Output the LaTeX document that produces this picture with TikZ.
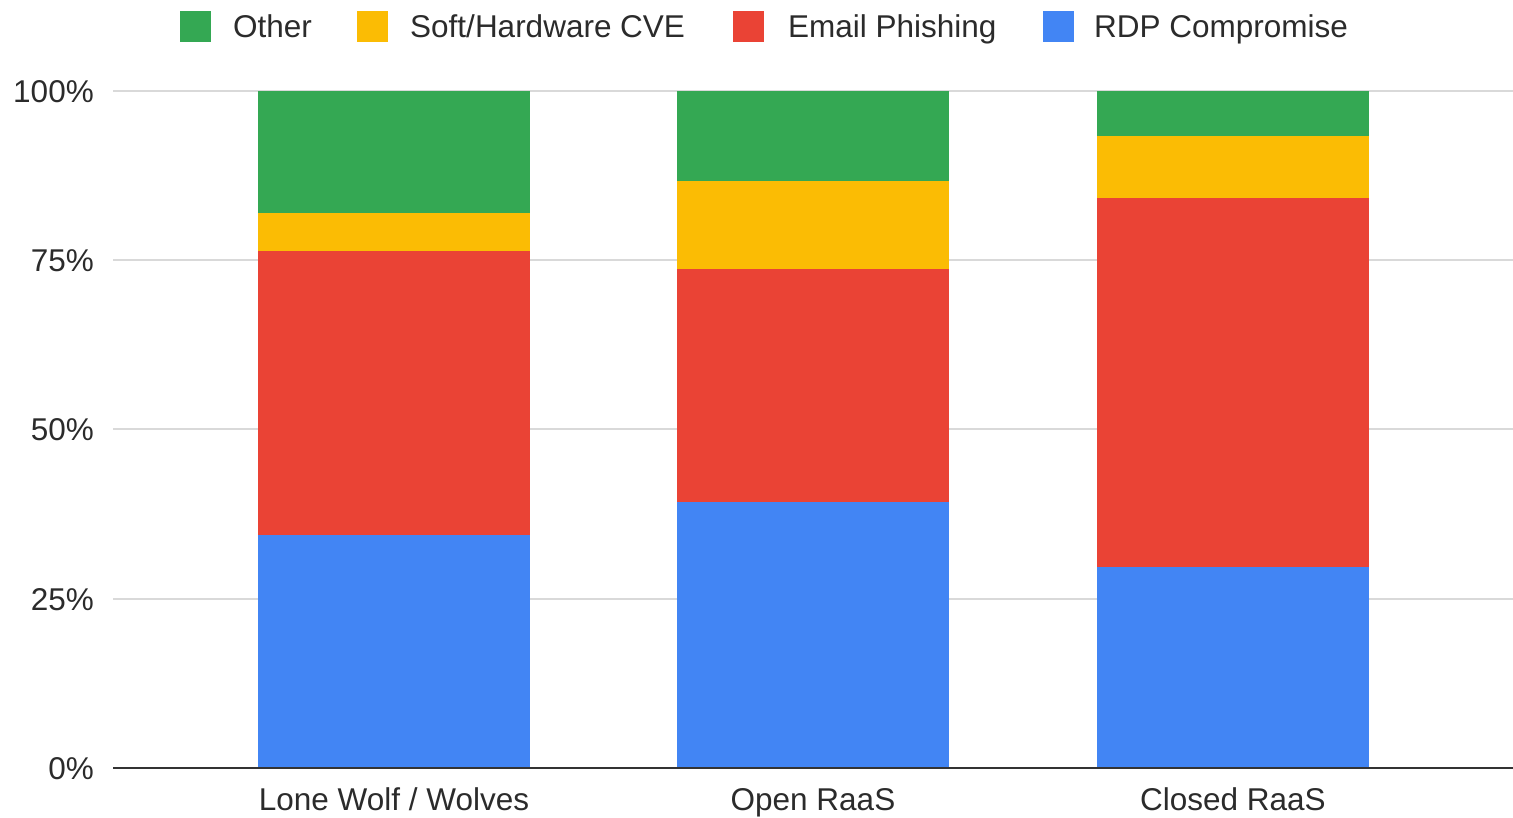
\documentclass[tikz,border=0pt]{standalone}
\usepackage{fontspec}
\setmainfont{Liberation Sans}
\definecolor{cgreen}{HTML}{34A853}
\definecolor{cyellow}{HTML}{FBBC04}
\definecolor{cred}{HTML}{EA4335}
\definecolor{cblue}{HTML}{4285F4}
\definecolor{ctext}{HTML}{2B2B2B}
\definecolor{cgrid}{HTML}{D9D9D9}
\definecolor{caxis}{HTML}{333333}
\tikzset{
  lbl/.style={font=\fontsize{31.5}{36}\selectfont, text=ctext, inner sep=0pt},
  grid line/.style={draw=cgrid, line width=2pt},
  axis line/.style={draw=caxis, line width=2pt},
  swatch/.style={inner sep=0pt, minimum width=31pt, minimum height=31pt},
}
\begin{document}
\begin{tikzpicture}[x=1pt,y=-1pt]
\useasboundingbox (0,0) rectangle (1513,817);
% gridlines
\foreach \yy in {91,260,429,599} \draw[grid line] (113,\yy) -- (1513,\yy);
% y labels
\node[lbl, anchor=base east] (y100) at (94,102) {100\%};
\node[lbl, anchor=base east] (y75) at (94,271) {75\%};
\node[lbl, anchor=base east] (y50) at (94,440) {50\%};
\node[lbl, anchor=base east] (y25) at (94,610) {25\%};
\node[lbl, anchor=base east] (y0) at (94,779) {0\%};
% bars: x0, x1, blue top, red top, yellow top
\foreach \xa/\xb/\bt/\rt/\yt in {258/530/535/251/213, 677/949/502/269/181, 1097/1369/567/198/136}{
  \fill[cblue] (\xa,768) rectangle (\xb,\bt);
  \fill[cred] (\xa,\bt) rectangle (\xb,\rt);
  \fill[cyellow] (\xa,\rt) rectangle (\xb,\yt);
  \fill[cgreen] (\xa,\yt) rectangle (\xb,91);
}
% axis
\draw[axis line] (113,768) -- (1513,768);
% category labels
\node[lbl, anchor=base] (c1) at (394,810) {Lone Wolf / Wolves};
\node[lbl, anchor=base] (c2) at (813,810) {Open RaaS};
\node[lbl, anchor=base] (c3) at (1233,810) {Closed RaaS};
% legend
\node[swatch, fill=cgreen] (s1) at (195,26) {};
\node[lbl, anchor=base west] (l1) at (233,37) {Other};
\node[swatch, fill=cyellow] (s2) at (372,26) {};
\node[lbl, anchor=base west] (l2) at (410,37) {Soft/Hardware CVE};
\node[swatch, fill=cred] (s3) at (748,26) {};
\node[lbl, anchor=base west] (l3) at (788,37) {Email Phishing};
\node[swatch, fill=cblue] (s4) at (1058,26) {};
\node[lbl, anchor=base west] (l4) at (1094,37) {RDP Compromise};
\end{tikzpicture}
\end{document}
